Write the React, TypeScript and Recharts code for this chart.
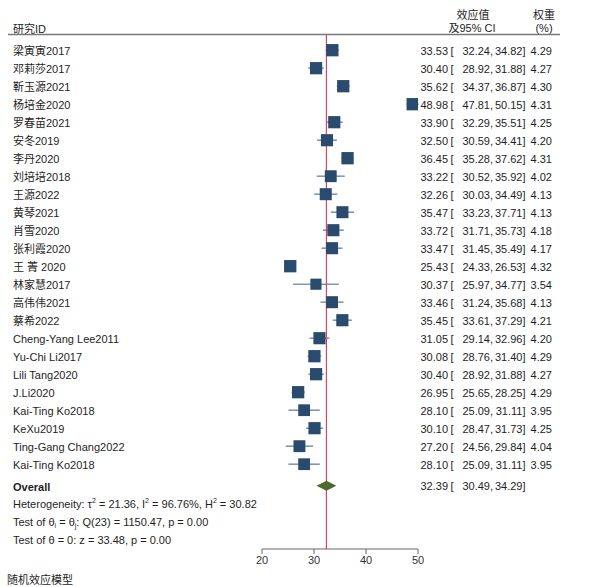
import React from 'react';
import { ComposedChart, Scatter, XAxis, YAxis, ErrorBar, ReferenceLine } from 'recharts';

const studies = ['梁寅寅2017', '邓莉莎2017', '靳玉源2021', '杨培金2020', '罗春苗2021', '安冬2019', '李丹2020', '刘培培2018', '王源2022', '黄琴2021', '肖雪2020', '张利霞2020', '王 菁 2020', '林家慧2017', '高伟伟2021', '蔡希2022', 'Cheng-Yang Lee2011', 'Yu-Chi Li2017', 'Lili Tang2020', 'J.Li2020', 'Kai-Ting Ko2018', 'KeXu2019', 'Ting-Gang Chang2022', 'Kai-Ting Ko2018'];
const effect = [33.53, 30.40, 35.62, 48.98, 33.90, 32.50, 36.45, 33.22, 32.26, 35.47, 33.72, 33.47, 25.43, 30.37, 33.46, 35.45, 31.05, 30.08, 30.40, 26.95, 28.10, 30.10, 27.20, 28.10];
const ciLow = [32.24, 28.92, 34.37, 47.81, 32.29, 30.59, 35.28, 30.52, 30.03, 33.23, 31.71, 31.45, 24.33, 25.97, 31.24, 33.61, 29.14, 28.76, 28.92, 25.65, 25.09, 28.47, 24.56, 25.09];
const ciHigh = [34.82, 31.88, 36.87, 50.15, 35.51, 34.41, 37.62, 35.92, 34.49, 37.71, 35.73, 35.49, 26.53, 34.77, 35.68, 37.29, 32.96, 31.40, 31.88, 28.25, 31.11, 31.73, 29.84, 31.11];
const weights = [4.29, 4.27, 4.30, 4.31, 4.25, 4.20, 4.31, 4.02, 4.13, 4.13, 4.18, 4.17, 4.32, 3.54, 4.13, 4.21, 4.20, 4.29, 4.27, 4.29, 3.95, 4.25, 4.04, 3.95];

const overallEffect = 32.39;
const overallLow = 30.49;
const overallHigh = 34.29;
const tau2 = 21.36;
const i2 = 96.76;
const h2 = 30.82;
const qStat = 1150.47;
const qDf = 23;
const qP = 0.00;
const zStat = 33.48;
const zP = 0.00;

const xTicks = [20, 30, 40, 50];

const OVERALL_ROW = 24.2;
const STAT_ROWS = [25.17, 26.15, 27.16];

const FONT = '"Liberation Sans", Arial, "Noto Sans CJK SC", sans-serif';
const TXT = '#1e1e1e';
const FS = 11;

const studyRows = studies.map((name, i) => ({
  name,
  x: effect[i],
  y: i,
  w: weights[i],
  err: [effect[i] - ciLow[i], ciHigh[i] - effect[i]],
}));

const overallRows = [
  { x: overallLow, y: OVERALL_ROW },
  { x: overallEffect, y: OVERALL_ROW },
  { x: overallHigh, y: OVERALL_ROW },
];

const leftTicks = [...studies.map((_, i) => i), OVERALL_ROW, ...STAT_ROWS];
const rightTicks = [...studies.map((_, i) => i), OVERALL_ROW];

const f2 = (v: number) => v.toFixed(2);

function Sup({ t }: { t: string }) {
  return null;
}

function LeftTick(props: any) {
  const { y, payload } = props;
  const v = payload.value;
  const base = y + 5;
  const common = { x: 13, y: base, fontSize: FS, fill: TXT, fontFamily: FONT, textAnchor: 'start' as const };
  if (v === OVERALL_ROW) {
    return <text {...common} fontWeight="bold">Overall</text>;
  }
  const si = STAT_ROWS.indexOf(v);
  if (si === 0) {
    return (
      <text {...common}>
        <tspan>Heterogeneity: τ</tspan>
        <tspan dy={-5} fontSize={7}>2</tspan>
        <tspan dy={5}>{` = ${f2(tau2)}, I`}</tspan>
        <tspan dy={-5} fontSize={7}>2</tspan>
        <tspan dy={5}>{` = ${f2(i2)}%, H`}</tspan>
        <tspan dy={-5} fontSize={7}>2</tspan>
        <tspan dy={5}>{` = ${f2(h2)}`}</tspan>
      </text>
    );
  }
  if (si === 1) {
    return (
      <text {...common}>
        <tspan>Test of θ</tspan>
        <tspan dy={2} fontSize={7}>i</tspan>
        <tspan dy={-2}> = θ</tspan>
        <tspan dy={2} fontSize={7}>j</tspan>
        <tspan dy={-2}>{`: Q(${qDf}) = ${f2(qStat)}, p = ${f2(qP)}`}</tspan>
      </text>
    );
  }
  if (si === 2) {
    return <text {...common}>{`Test of θ = 0: z = ${f2(zStat)}, p = ${f2(zP)}`}</text>;
  }
  const idx = Math.round(v);
  return <text {...common}>{studies[idx]}</text>;
}

function RightTick(props: any) {
  const { y, payload } = props;
  const v = payload.value;
  const base = y + 4.5;
  let e: number, lo: number, hi: number, w: number | null;
  if (v === OVERALL_ROW) {
    e = overallEffect; lo = overallLow; hi = overallHigh; w = null;
  } else {
    const i = Math.round(v);
    e = effect[i]; lo = ciLow[i]; hi = ciHigh[i]; w = weights[i];
  }
  const c = { y: base, fontSize: FS, fill: TXT, fontFamily: FONT };
  return (
    <g>
      <text {...c} x={448} textAnchor="end">{f2(e)}</text>
      <text {...c} x={450.5} textAnchor="start">[</text>
      <text {...c} x={493} textAnchor="end">{`${f2(lo)},`}</text>
      <text {...c} x={525.5} textAnchor="end">{`${f2(hi)}]`}</text>
      {w !== null && <text {...c} x={552} textAnchor="end">{f2(w)}</text>}
    </g>
  );
}

function SquareShape(props: any) {
  const { cx, cy, payload } = props;
  const side = 12.3 * Math.sqrt(payload.w / 4.32);
  return <rect x={cx - side / 2} y={cy - side / 2} width={side} height={side} fill="#2a4a6e" stroke="none" />;
}

function DiamondLine(props: any) {
  const pts = props.points || [];
  if (!pts.length) return null;
  const xs = pts.map((p: any) => p.x);
  const l = Math.min(...xs);
  const r = Math.max(...xs);
  const m = pts[1].x;
  const ym = pts[0].y;
  return <polygon points={`${l},${ym} ${m},${ym - 5} ${r},${ym} ${m},${ym + 5}`} fill="#4b6a2c" stroke="none" />;
}

const EmptyShape = () => <g />;

export default function App() {
  return (
    <div style={{ position: 'absolute', left: 0, top: 0, width: 589, height: 587, background: '#fff' }}>
      <ComposedChart width={589} height={587} margin={{ top: 34, right: 0, bottom: 0, left: 0 }} style={{ fontFamily: FONT }}>
        <XAxis
          type="number"
          dataKey="x"
          domain={[20, 50]}
          allowDataOverflow
          ticks={xTicks}
          interval={0}
          height={38}
          tickSize={5}
          tickMargin={2}
          axisLine={{ stroke: '#666', strokeWidth: 1 }}
          tickLine={{ stroke: '#666', strokeWidth: 1 }}
          tick={{ fill: '#333', fontSize: FS, fontFamily: FONT }}
        />
        <YAxis
          yAxisId="left"
          type="number"
          dataKey="y"
          domain={[-0.9, 27.711]}
          allowDataOverflow
          reversed
          width={262}
          ticks={leftTicks}
          interval={0}
          axisLine={false}
          tickLine={false}
          tick={<LeftTick />}
        />
        <YAxis
          yAxisId="right"
          orientation="right"
          type="number"
          dataKey="y"
          domain={[-0.9, 27.711]}
          allowDataOverflow
          reversed
          width={171}
          ticks={rightTicks}
          interval={0}
          axisLine={false}
          tickLine={false}
          tick={<RightTick />}
        />
        <Scatter yAxisId="left" data={studyRows} dataKey="y" shape={<SquareShape />} isAnimationActive={false}>
          <ErrorBar dataKey="err" direction="x" width={0} stroke="#7d99b6" strokeWidth={1.6} isAnimationActive={false} />
        </Scatter>
        <Scatter
          yAxisId="right"
          data={overallRows}
          dataKey="y"
          shape={<EmptyShape />}
          line={<DiamondLine />}
          lineType="joint"
          isAnimationActive={false}
        />
        <ReferenceLine yAxisId="left" x={overallEffect} stroke="#d8455e" strokeWidth={1.2} />
      </ComposedChart>
      <svg width={589} height={587} style={{ position: 'absolute', left: 0, top: 0, pointerEvents: 'none' }}>
        <g fontFamily={FONT} fontSize={FS} fill={TXT}>
          <text x={13} y={33}>研究ID</text>
          <text x={473} y={19} textAnchor="middle">效应值</text>
          <text x={472} y={32} textAnchor="middle">及95% CI</text>
          <text x={544} y={19} textAnchor="middle">权重</text>
          <text x={544} y={32} textAnchor="middle">(%)</text>
          <text x={7} y={584}>随机效应模型</text>
        </g>
        <line x1={8} x2={560} y1={34.5} y2={34.5} stroke="#777" strokeWidth={1.5} />
      </svg>
    </div>
  );
}
